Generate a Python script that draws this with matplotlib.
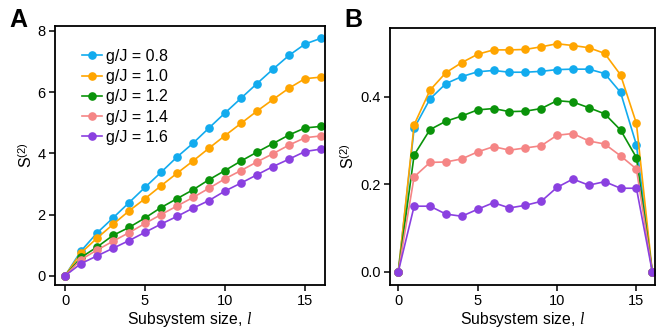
import matplotlib
matplotlib.use("Agg")
import matplotlib.pyplot as plt

plt.rcParams['font.family'] = ['Liberation Sans', 'DejaVu Sans']
plt.rcParams['mathtext.fontset'] = 'custom'
plt.rcParams['mathtext.rm'] = 'Liberation Sans'
plt.rcParams['mathtext.it'] = 'Liberation Serif:italic'

sizes = list(range(17))
labels = ["g/J = 0.8", "g/J = 1.0", "g/J = 1.2", "g/J = 1.4", "g/J = 1.6"]
colors = ['#12ABEE', '#FFA500', '#0A930A', '#F58585', '#8A40E0']

# Panel A: S2 vs subsystem size
a_08 = [0, 0.81, 1.40, 1.89, 2.39, 2.89, 3.38, 3.88, 4.33, 4.83, 5.32, 5.80, 6.28, 6.75, 7.20, 7.57, 7.76]
a_10 = [0, 0.75, 1.23, 1.68, 2.12, 2.52, 2.94, 3.35, 3.75, 4.17, 4.58, 4.98, 5.38, 5.76, 6.13, 6.44, 6.49]
a_12 = [0, 0.60, 0.94, 1.32, 1.58, 1.89, 2.23, 2.52, 2.81, 3.14, 3.44, 3.75, 4.04, 4.32, 4.60, 4.83, 4.88]
a_14 = [0, 0.53, 0.84, 1.13, 1.41, 1.71, 2.00, 2.28, 2.56, 2.86, 3.17, 3.44, 3.72, 3.99, 4.27, 4.51, 4.57]
a_16 = [0, 0.40, 0.65, 0.90, 1.15, 1.42, 1.69, 1.94, 2.21, 2.46, 2.77, 3.03, 3.30, 3.57, 3.81, 4.06, 4.14]

# Panel B
b_08 = [0, 0.328, 0.395, 0.430, 0.446, 0.457, 0.460, 0.456, 0.456, 0.458, 0.462, 0.463, 0.463, 0.453, 0.410, 0.290, 0]
b_10 = [0, 0.336, 0.415, 0.455, 0.478, 0.497, 0.507, 0.507, 0.508, 0.514, 0.521, 0.517, 0.512, 0.499, 0.450, 0.339, 0]
b_12 = [0, 0.267, 0.325, 0.344, 0.356, 0.370, 0.373, 0.366, 0.367, 0.373, 0.391, 0.388, 0.375, 0.361, 0.324, 0.261, 0]
b_14 = [0, 0.217, 0.250, 0.251, 0.258, 0.274, 0.286, 0.278, 0.283, 0.288, 0.312, 0.316, 0.299, 0.292, 0.265, 0.235, 0]
b_16 = [0, 0.150, 0.150, 0.132, 0.127, 0.143, 0.158, 0.146, 0.152, 0.161, 0.193, 0.212, 0.198, 0.206, 0.191, 0.191, 0]

A = [a_08, a_10, a_12, a_14, a_16]
B = [b_08, b_10, b_12, b_14, b_16]

fig = plt.figure(figsize=(6.57, 3.33), dpi=100)
axA = fig.add_axes([55/657, 1-285/333, 270/657, 259/333])
axB = fig.add_axes([390/657, 1-285/333, 265/657, 257/333])

for ax, data in ((axA, A), (axB, B)):
    for vals, c, lab in zip(data, colors, labels):
        ax.plot(sizes, vals, '-o', color=c, lw=1.2, ms=5.2, label=lab)
    for s in ax.spines.values():
        s.set_linewidth(1.3)
    ax.tick_params(direction='out', length=4.2, width=1.1, labelsize=10.5, pad=2.5)
    ax.set_xticks([0, 5, 10, 15])
    ax.set_xlabel("Subsystem size, $l$", fontsize=11.3, labelpad=1)
    ax.set_ylabel("S$^{(2)}$", fontsize=11.5, labelpad=2)

axA.set_xlim(-0.625, 16.25)
axA.set_ylim(-0.3, 8.16)
axA.set_yticks([0, 2, 4, 6, 8])
axB.set_xlim(-0.52, 16.17)
axB.set_ylim(-0.03, 0.557)
axB.set_yticks([0.0, 0.2, 0.4])
axB.set_yticklabels(["0.0", "0.2", "0.4"])

axA.legend(loc='upper left', frameon=False, fontsize=11.5, handlelength=1.2,
           handletextpad=0.3, labelspacing=0.33, borderaxespad=0.3,
           bbox_to_anchor=(0.06, 0.955))

fig.text(9/657, 1-8/333, "A", fontsize=18, fontweight='bold', va='top', ha='left')
fig.text(344/657, 1-8/333, "B", fontsize=18, fontweight='bold', va='top', ha='left')

fig.savefig("out.png", dpi=100)
